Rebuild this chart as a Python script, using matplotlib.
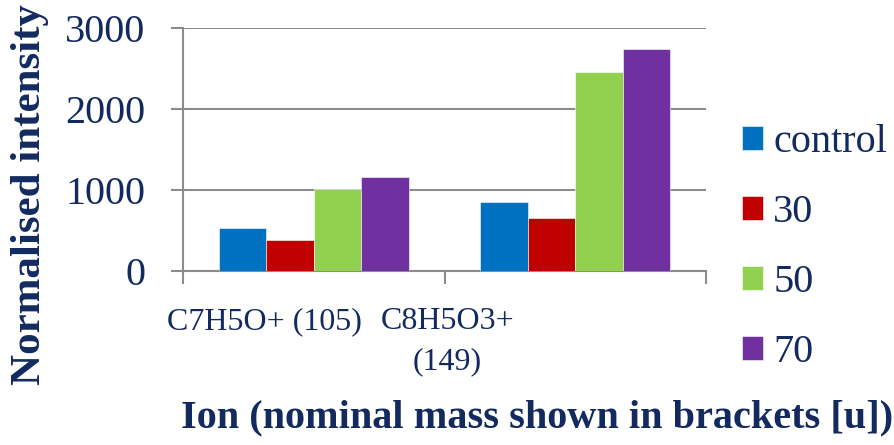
import numpy as np
import matplotlib
matplotlib.use('Agg')
import matplotlib.pyplot as plt
import matplotlib.transforms as mtransforms

# chart data
ions = ['C7H5O+ (105)', 'C8H5O3+\n(149)']
series = ['control', '30', '50', '70']
values = {
    'control': [530, 850],
    '30': [385, 655],
    '50': [1010, 2455],
    '70': [1160, 2740],
}
colors = ['#0070C0', '#C00000', '#92D050', '#7030A0']
label_offsets = [-0.19, -0.49]  # labels sit left of their category centre in the original

text_col = '#122A5E'
grid_col = '#8C8C8C'

plt.rcParams['font.family'] = ['Liberation Serif', 'DejaVu Serif']

fig = plt.figure(figsize=(8.95, 4.45), dpi=100)
ax = fig.add_axes([0.2045, 0.391, 0.5845, 0.546])

x = np.arange(len(ions))
width = 0.727 / len(series)
for i, (name, col) in enumerate(zip(series, colors)):
    offs = (i - (len(series) - 1) / 2) * width
    ax.bar(x + offs, values[name], width, color=col, label=name,
           edgecolor='white', linewidth=0.4, zorder=3)

ax.set_ylim(0, 3000)
ax.set_xlim(-0.5, len(ions) - 0.5)
ax.set_yticks([0, 1000, 2000, 3000])
ax.grid(axis='y', color=grid_col, linewidth=1.5, zorder=0)

# category boundaries get the tick marks, labels placed separately
ax.set_xticks(np.arange(len(ions) + 1) - 0.5)
ax.set_xticklabels([])
trans = mtransforms.blended_transform_factory(ax.transData, ax.transAxes)
for xi, lab, off in zip(x, ions, label_offsets):
    ax.text(xi + off, -0.15, lab, transform=trans, ha='center', va='top',
            multialignment='center', fontsize=23, color=text_col, linespacing=1.5)

for s in ['top', 'right']:
    ax.spines[s].set_visible(False)
for s in ['left', 'bottom']:
    ax.spines[s].set_color(grid_col)
    ax.spines[s].set_linewidth(1.5)
ax.tick_params(axis='x', length=9, width=1.5, color=grid_col, direction='out')
ax.tick_params(axis='y', length=9, width=1.5, color=grid_col, direction='out',
               labelsize=29, labelcolor=text_col, pad=18)

fig.text(0.034, 0.562, 'Normalised intensity', rotation=90, ha='center', va='center',
         fontsize=31, fontweight='bold', color=text_col)
fig.text(0.6, 0.06, 'Ion (nominal mass shown in brackets [u])', ha='center', va='center',
         fontsize=29, fontweight='bold', color=text_col)

leg = ax.legend(loc='center left', bbox_to_anchor=(1.03, 0.095), frameon=False,
                fontsize=29, handlelength=0.53, handleheight=0.53,
                handletextpad=0.25, labelspacing=0.82, borderpad=0)
for t in leg.get_texts():
    t.set_color(text_col)

plt.savefig('out.png', dpi=100)
plt.close()
